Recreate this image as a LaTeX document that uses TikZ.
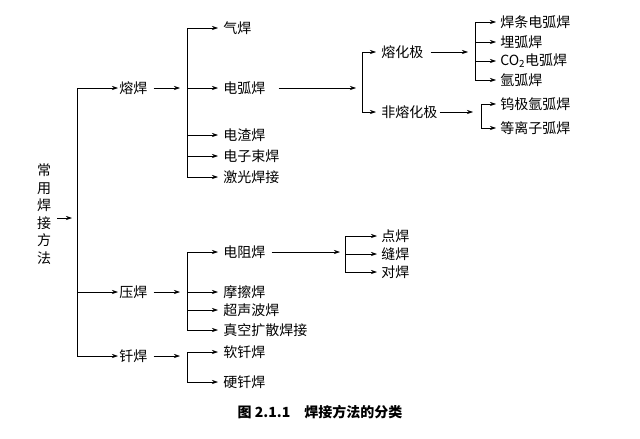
\documentclass[tikz,border=0pt]{standalone}
\usepackage{fontspec}
\newfontfamily\cjk{Noto Sans CJK SC}
\usetikzlibrary{arrows.meta}
\tikzset{
  item/.style={anchor=west, inner sep=1pt, font=\cjk\fontsize{14}{15}\selectfont},
  arr/.style={-{Stealth[length=6pt, width=4pt]}, black},
}
\begin{document}
\begin{tikzpicture}[x=1pt, y=-1pt, line width=0.6pt]
\useasboundingbox (0,0) rectangle (640,439);
% root
\node[item, anchor=center, align=center, font=\cjk\fontsize{14}{17.5}\selectfont] (root) at (44,214) {常\\用\\焊\\接\\方\\法};
\draw[arr] (57,218) -- (72,218);
\draw (77,88) -- (77,356);
% level 1
\node[item] (rh) at (118,88) {熔焊};
\node[item] (yh) at (118,292) {压焊};
\node[item] (qh) at (118,356) {钎焊};
\draw[arr] (77,88) -- (rh.west);
\draw[arr] (77,292) -- (yh.west);
\draw[arr] (77,356) -- (qh.west);
\draw[arr] (rh.east) ++(5,0) -- (180,88);
\draw[arr] (yh.east) ++(5,0) -- (180,292);
\draw[arr] (qh.east) ++(5,0) -- (180,356);
% fusion welding
\draw (187,28) -- (187,178);
\foreach \y/\n/\t in {28/qi/气焊, 88/dh/电弧焊, 135/dz/电渣焊, 156/dzs/电子束焊, 177/jg/激光焊接}
  {\node[item] (\n) at (222,\y) {\t}; \draw[arr] (187,\y) -- ([xshift=-4pt]\n.west);}
\draw[arr] (dh.east) ++(12,0) -- (356,88);
\draw (362,52) -- (362,112);
\node[item] (rhj) at (380,52) {熔化极};
\node[item] (frhj) at (380,112) {非熔化极};
\draw[arr] (362,52) -- ([xshift=-4pt]rhj.west);
\draw[arr] (362,112) -- ([xshift=-4pt]frhj.west);
\draw[arr] (rhj.east) ++(6,0) -- (468,52);
\draw[arr] (frhj.east) ++(1,0) -- (473,112);
\draw (475,22) -- (475,80);
\foreach \y/\n/\t in {22/htd/焊条电弧焊, 42/mh/埋弧焊, 61/co/CO\textsubscript{2}电弧焊, 80/yah/氩弧焊}
  {\node[item] (\n) at (499,\y) {\t}; \draw[arr] (475,\y) -- ([xshift=-3pt]\n.west);}
\draw (481,104) -- (481,128);
\foreach \y/\n/\t in {104/wj/钨极氩弧焊, 128/dlz/等离子弧焊}
  {\node[item] (\n) at (499,\y) {\t}; \draw[arr] (481,\y) -- ([xshift=-3pt]\n.west);}
% pressure welding
\draw (187,252) -- (187,330);
\foreach \y/\n/\t in {252/dz2/电阻焊, 292/mc/摩擦焊, 310/csb/超声波焊, 330/zk/真空扩散焊接}
  {\node[item] (\n) at (222,\y) {\t}; \draw[arr] (187,\y) -- ([xshift=-4pt]\n.west);}
\draw[arr] (dz2.east) ++(5,0) -- (340,252);
\draw (345,236) -- (345,272);
\foreach \y/\n/\t in {236/dian/点焊, 254/feng/缝焊, 272/dui/对焊}
  {\node[item] (\n) at (380,\y) {\t}; \draw[arr] (345,\y) -- ([xshift=-3pt]\n.west);}
% brazing
\draw (187,352) -- (187,382);
\foreach \y/\n/\t in {352/rq/软钎焊, 382/yq/硬钎焊}
  {\node[item] (\n) at (222,\y) {\t}; \draw[arr] (187,\y) -- ([xshift=-4pt]\n.west);}
% caption
\node[font=\cjk\bfseries\fontsize{14}{15}\selectfont] (cap) at (320,412) {图 2.1.1\quad 焊接方法的分类};
\end{tikzpicture}
\end{document}
